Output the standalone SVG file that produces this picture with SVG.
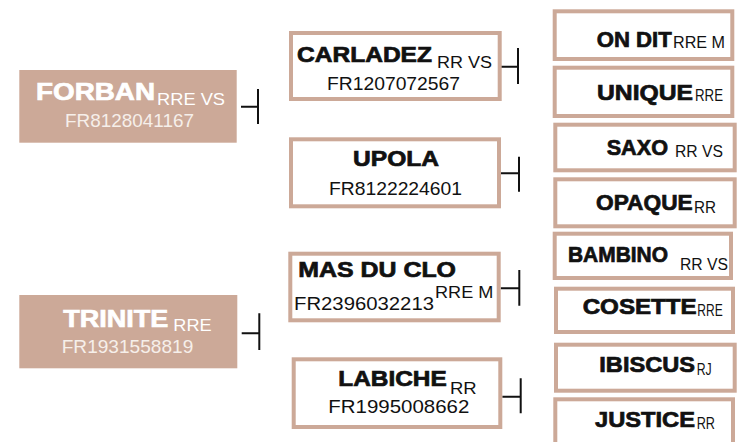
<svg xmlns="http://www.w3.org/2000/svg" width="747" height="442" viewBox="0 0 747 442">
<style>
.fill{fill:#CCA998}
.box{fill:#fff;stroke:#CCA998;stroke-width:4}
.nm{font-family:"Liberation Sans",Arial,sans-serif;font-weight:bold;fill:#111;stroke:#111;stroke-width:0.7;font-size:21.5px}
.sx{font-family:"Liberation Sans",Arial,sans-serif;fill:#111;font-size:16px}
.id{font-family:"Liberation Sans",Arial,sans-serif;fill:#111;font-size:19px}
.wn{font-family:"Liberation Sans",Arial,sans-serif;font-weight:bold;fill:#fff;stroke:#fff;stroke-width:0.7;font-size:24px}
.ws{font-family:"Liberation Sans",Arial,sans-serif;fill:#fff;font-size:17px}
.wi{font-family:"Liberation Sans",Arial,sans-serif;fill:#f6efea;font-size:18.5px}
.c{stroke:#111;stroke-width:2;fill:none}
</style>
<rect width="747" height="442" fill="#fff"/>
<g id="connectors">
<path class="c" d="M241 106.7H258M258 89V124"/>
<path class="c" d="M241.7 333.3H259.3M259.3 313.3V350"/>
<path class="c" d="M500.7 66.7H518M518 48V84"/>
<path class="c" d="M501 173.3H519M519 156.7V191.7"/>
<path class="c" d="M500.7 288.3H519.3M519.3 270V305.7"/>
<path class="c" d="M502.3 396.7H520.7M520.7 378.3V413.3"/>
</g>
<g id="forban">
<rect class="fill" x="19.3" y="70" width="217.4" height="72.7"/>
<text class="wn" x="36" y="100" textLength="119" lengthAdjust="spacingAndGlyphs">FORBAN</text>
<text class="ws" x="157" y="105" textLength="68" lengthAdjust="spacingAndGlyphs">RRE VS</text>
<text class="wi" x="65" y="126.5" textLength="129" lengthAdjust="spacingAndGlyphs">FR8128041167</text>
</g>
<g id="trinite">
<rect class="fill" x="19.3" y="295" width="218" height="73.3"/>
<text class="wn" x="63.3" y="326.7" textLength="105" lengthAdjust="spacingAndGlyphs">TRINITE</text>
<text class="ws" x="173.3" y="330.7" textLength="38.4" lengthAdjust="spacingAndGlyphs">RRE</text>
<text class="wi" x="61.7" y="353.3" textLength="131.6" lengthAdjust="spacingAndGlyphs">FR1931558819</text>
</g>
<g id="carladez">
<rect class="box" x="291" y="33" width="208.7" height="66"/>
<text class="nm" x="297" y="61.7" textLength="135" lengthAdjust="spacingAndGlyphs">CARLADEZ</text>
<text class="sx" x="437" y="68.3" textLength="55" lengthAdjust="spacingAndGlyphs">RR VS</text>
<text class="id" x="327" y="90" textLength="133" lengthAdjust="spacingAndGlyphs">FR1207072567</text>
</g>
<g id="upola">
<rect class="box" x="291" y="139.3" width="208" height="67"/>
<text class="nm" x="353" y="166" textLength="86" lengthAdjust="spacingAndGlyphs">UPOLA</text>
<text class="id" x="329" y="195" textLength="133" lengthAdjust="spacingAndGlyphs">FR8122224601</text>
</g>
<g id="masduclo">
<rect class="box" x="290.3" y="253.7" width="208.4" height="66.6"/>
<text class="nm" x="298.3" y="276.7" textLength="157.7" lengthAdjust="spacingAndGlyphs">MAS DU CLO</text>
<text class="sx" x="435" y="298.3" textLength="58.3" lengthAdjust="spacingAndGlyphs">RRE M</text>
<text class="id" x="294" y="310" textLength="140" lengthAdjust="spacingAndGlyphs">FR2396032213</text>
</g>
<g id="labiche">
<rect class="box" x="293.7" y="359.3" width="206.6" height="67.7"/>
<text class="nm" x="338.3" y="386" textLength="108.4" lengthAdjust="spacingAndGlyphs">LABICHE</text>
<text class="sx" x="450" y="394" textLength="26.7" lengthAdjust="spacingAndGlyphs">RR</text>
<text class="id" x="328.3" y="413.3" textLength="141" lengthAdjust="spacingAndGlyphs">FR1995008662</text>
</g>
<g id="ondit">
<rect class="box" x="554.7" y="11.3" width="177.6" height="47.7"/>
<text class="nm" x="596.7" y="46.5" textLength="75" lengthAdjust="spacingAndGlyphs">ON DIT</text>
<text class="sx" x="673" y="47.7" textLength="52" lengthAdjust="spacingAndGlyphs">RRE M</text>
</g>
<g id="unique">
<rect class="box" x="554.7" y="67.7" width="177.6" height="48.3"/>
<text class="nm" x="597" y="100" textLength="96" lengthAdjust="spacingAndGlyphs">UNIQUE</text>
<text class="sx" x="695" y="101" textLength="28" lengthAdjust="spacingAndGlyphs">RRE</text>
</g>
<g id="saxo">
<rect class="box" x="555.3" y="124.7" width="179.4" height="45.6"/>
<text class="nm" x="606.7" y="155" textLength="61.3" lengthAdjust="spacingAndGlyphs">SAXO</text>
<text class="sx" x="675" y="157.3" textLength="48" lengthAdjust="spacingAndGlyphs">RR VS</text>
</g>
<g id="opaque">
<rect class="box" x="555.3" y="179.3" width="179.4" height="47"/>
<text class="nm" x="596" y="210" textLength="96.7" lengthAdjust="spacingAndGlyphs">OPAQUE</text>
<text class="sx" x="694" y="212.7" textLength="22" lengthAdjust="spacingAndGlyphs">RR</text>
</g>
<g id="bambino">
<rect class="box" x="554.7" y="233.7" width="176.3" height="44.3"/>
<text class="nm" x="568" y="261.7" textLength="100" lengthAdjust="spacingAndGlyphs">BAMBINO</text>
<text class="sx" x="680" y="270" textLength="48" lengthAdjust="spacingAndGlyphs">RR VS</text>
</g>
<g id="cosette">
<rect class="box" x="556" y="288.7" width="177" height="43.3"/>
<text class="nm" x="582.7" y="314.3" textLength="114" lengthAdjust="spacingAndGlyphs">COSETTE</text>
<text class="sx" x="697.3" y="315.7" textLength="25.4" lengthAdjust="spacingAndGlyphs">RRE</text>
</g>
<g id="ibiscus">
<rect class="box" x="556" y="344.7" width="178.7" height="46"/>
<text class="nm" x="599.3" y="371.7" textLength="95.7" lengthAdjust="spacingAndGlyphs">IBISCUS</text>
<text class="sx" x="696.7" y="375" textLength="15" lengthAdjust="spacingAndGlyphs">RJ</text>
</g>
<g id="justice">
<rect class="box" x="555.3" y="399.3" width="177.7" height="50"/>
<text class="nm" x="595" y="426.7" textLength="100" lengthAdjust="spacingAndGlyphs">JUSTICE</text>
<text class="sx" x="696.7" y="429.3" textLength="18.3" lengthAdjust="spacingAndGlyphs">RR</text>
</g>
</svg>
